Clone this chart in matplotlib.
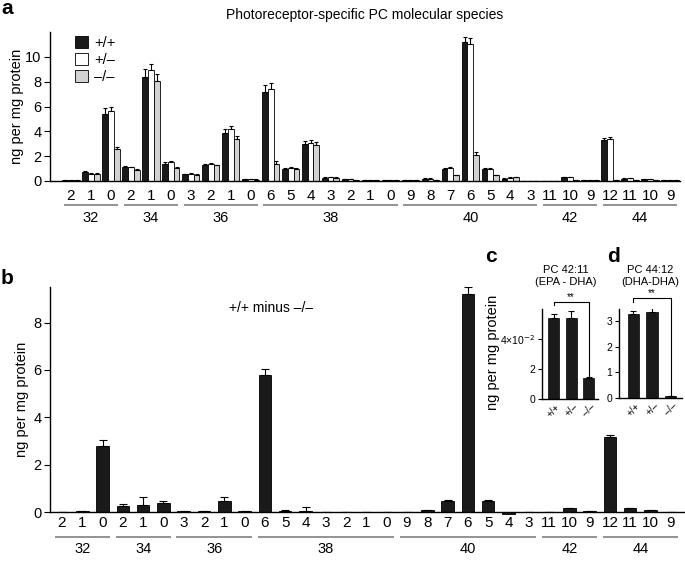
import matplotlib
matplotlib.use("Agg")
import matplotlib.pyplot as plt
import matplotlib.transforms as mtransforms
import numpy as np

plt.rcParams['font.family'] = ['Liberation Sans', 'DejaVu Sans']

# species: (carbon group, double bonds)
groups = ['32', '34', '36', '38', '40', '42', '44']
group_sizes = [3, 3, 4, 7, 7, 3, 4]
tick_labels = ['2', '1', '0', '2', '1', '0', '3', '2', '1', '0',
               '6', '5', '4', '3', '2', '1', '0',
               '9', '8', '7', '6', '5', '4', '3',
               '11', '10', '9', '12', '11', '10', '9']

# panel a: ng per mg protein (+/+, +/-, -/-)
wt = [0.05, 0.7, 5.4, 1.15, 8.4, 1.4, 0.55, 1.25, 3.9, 0.15,
      7.2, 1.0, 3.0, 0.25, 0.15, 0.05, 0.05,
      0.05, 0.2, 0.95, 11.2, 0.95, 0.2, 0.03,
      0.03, 0.3, 0.1, 3.3, 0.2, 0.15, 0.05]
het = [0.05, 0.55, 5.6, 1.1, 8.9, 1.5, 0.6, 1.35, 4.2, 0.15,
       7.4, 1.05, 3.05, 0.3, 0.15, 0.05, 0.05,
       0.05, 0.2, 1.05, 11.0, 0.95, 0.25, 0.03,
       0.03, 0.3, 0.1, 3.35, 0.25, 0.15, 0.05]
ko = [0.05, 0.6, 2.6, 0.9, 8.05, 1.05, 0.5, 1.25, 3.4, 0.12,
      1.4, 1.0, 2.9, 0.25, 0.1, 0.05, 0.05,
      0.05, 0.1, 0.45, 2.1, 0.45, 0.3, 0.03,
      0.03, 0.05, 0.1, 0.05, 0.05, 0.05, 0.05]
wt_err = [0.02, 0.08, 0.5, 0.08, 0.6, 0.12, 0.05, 0.08, 0.3, 0.02,
          0.5, 0.06, 0.2, 0.05, 0.02, 0.01, 0.01,
          0.01, 0.03, 0.08, 0.4, 0.08, 0.03, 0.01,
          0.01, 0.04, 0.02, 0.15, 0.03, 0.02, 0.01]
het_err = [0.02, 0.06, 0.4, 0.06, 0.55, 0.1, 0.05, 0.08, 0.25, 0.02,
           0.5, 0.06, 0.22, 0.05, 0.02, 0.01, 0.01,
           0.01, 0.03, 0.1, 0.5, 0.08, 0.04, 0.01,
           0.01, 0.04, 0.02, 0.2, 0.03, 0.02, 0.01]
ko_err = [0.02, 0.06, 0.15, 0.06, 0.55, 0.08, 0.05, 0.06, 0.22, 0.02,
          0.2, 0.05, 0.25, 0.04, 0.02, 0.01, 0.01,
          0.01, 0.02, 0.06, 0.25, 0.05, 0.04, 0.01,
          0.01, 0.01, 0.02, 0.01, 0.01, 0.01, 0.01]

# panel b: +/+ minus -/-
diff = [0.01, 0.05, 2.8, 0.25, 0.3, 0.38, 0.05, 0.03, 0.45, 0.03,
        5.8, 0.05, 0.05, 0.02, 0.01, 0.01, 0.01,
        0.01, 0.1, 0.45, 9.2, 0.45, -0.1, 0.01,
        0.01, 0.18, 0.03, 3.15, 0.18, 0.08, 0.01]
diff_err = [0, 0, 0.25, 0.07, 0.35, 0.07, 0.01, 0, 0.2, 0,
            0.22, 0.03, 0.17, 0, 0, 0, 0,
            0, 0, 0.05, 0.3, 0.05, 0, 0,
            0, 0, 0, 0.1, 0, 0, 0]

# panels c, d
genotypes = ['+/+', '+/\u2013', '\u2013/\u2013']
pc4211 = [0.054, 0.054, 0.014]
pc4211_err = [0.003, 0.005, 0.001]
pc4412 = [3.25, 3.35, 0.07]
pc4412_err = [0.15, 0.2, 0.01]

BLACK = '#1a1a1a'
GREY = '#d2d2d2'
LINE_GREY = '#8a8a8a'

fig = plt.figure(figsize=(6.85, 5.61), dpi=100)


def style_axes(ax):
    for s in ['top', 'right']:
        ax.spines[s].set_visible(False)
    for s in ['left', 'bottom']:
        ax.spines[s].set_linewidth(1.0)
    ax.tick_params(axis='y', direction='out', length=4, width=0.8, labelsize=10.5, pad=2)
    ax.tick_params(axis='x', length=0, labelsize=11)


def group_axis(ax, line_y, label_y):
    trans = mtransforms.blended_transform_factory(ax.transData, ax.transAxes)
    start = 0
    for name, n in zip(groups, group_sizes):
        x0, x1 = start - 0.36, start + n - 1 + 0.36
        ax.plot([x0, x1], [line_y, line_y], color=LINE_GREY, lw=1.3,
                transform=trans, clip_on=False, solid_capstyle='butt')
        ax.text((x0 + x1) / 2, label_y, name, transform=trans, ha='center',
                va='center', fontsize=10.5)
        start += n


x = np.arange(len(tick_labels))

# ---- panel a
ax_a = fig.add_axes([50 / 685, 1 - 181 / 561, 630 / 685, 149 / 561])
style_axes(ax_a)
w = 0.29
ekw = dict(elinewidth=0.8, capthick=0.8)
ax_a.bar(x - w, wt, w, color=BLACK, edgecolor='black', lw=0.6, label='+/+',
         yerr=[np.zeros(len(x)), wt_err], capsize=1.5, error_kw=ekw)
ax_a.bar(x, het, w, color='white', edgecolor='black', lw=0.6, label='+/\u2013',
         yerr=[np.zeros(len(x)), het_err], capsize=1.5, error_kw=ekw)
ax_a.bar(x + w, ko, w, color=GREY, edgecolor='black', lw=0.6, label='\u2013/\u2013',
         yerr=[np.zeros(len(x)), ko_err], capsize=1.5, error_kw=ekw)
ax_a.set_xlim(-1.05, 30.5)
ax_a.set_ylim(0, 12)
ax_a.set_yticks([0, 2, 4, 6, 8, 10])
ax_a.set_xticks(x)
ax_a.set_xticklabels(tick_labels)
ax_a.tick_params(axis='x', pad=6)
ax_a.set_ylabel('ng per mg protein', fontsize=10.5, labelpad=1)
group_axis(ax_a, -0.161, -0.248)
ax_a.legend(loc='upper left', bbox_to_anchor=(0.04, 0.975), frameon=False,
            fontsize=10.5, handlelength=0.9, handleheight=0.9, handletextpad=0.4,
            labelspacing=0.2, borderpad=0, borderaxespad=0)
fig.text(365 / 685, 1 - 15 / 561, 'Photoreceptor-specific PC molecular species',
         ha='center', va='center', fontsize=10)

# ---- panel b
ax_b = fig.add_axes([50 / 685, 1 - 512 / 561, 635 / 685, 225 / 561])
style_axes(ax_b)
ax_b.bar(x, diff, 0.62, color=BLACK, edgecolor='black', lw=0.6, clip_on=False,
         yerr=[np.zeros(len(x)), diff_err], capsize=3, error_kw=ekw)
ax_b.set_xlim(-0.59, 30.7)
ax_b.set_ylim(0, 9.5)
ax_b.set_yticks([0, 2, 4, 6, 8])
ax_b.set_xticks(x)
ax_b.set_xticklabels(tick_labels)
ax_b.tick_params(axis='x', pad=3)
ax_b.set_ylabel('ng per mg protein', fontsize=10.5, labelpad=3)
group_axis(ax_b, -0.111, -0.166)
fig.text(271 / 685, 1 - 308 / 561, '+/+ minus \u2013/\u2013', ha='center',
         va='center', fontsize=10)


# ---- insets c, d
def inset(rect, vals, errs, xlim, ylim, yticks, ylabels, title, title_x,
          sig_y, sig_drop, width):
    ax = fig.add_axes(rect)
    style_axes(ax)
    gx = np.arange(len(genotypes))
    ax.bar(gx, vals, width, color=BLACK, edgecolor='black', lw=0.5,
           yerr=[np.zeros(3), errs], capsize=2.5, error_kw=ekw)
    ax.set_xlim(*xlim)
    ax.set_ylim(*ylim)
    ax.set_yticks(yticks)
    ax.set_yticklabels(ylabels)
    ax.tick_params(axis='y', labelsize=7.5, length=3)
    ax.set_xticks(gx)
    ax.set_xticklabels(genotypes, rotation=45, fontsize=7, ha='center')
    ax.tick_params(axis='x', pad=2)
    fig.text(title_x / 685, 1 - 276 / 561, title, ha='center', va='center',
             fontsize=8, linespacing=1.15)
    top = vals[2] + errs[2]
    ax.plot([0, 0, 2, 2], [sig_y - sig_drop, sig_y, sig_y, top], color='black',
            lw=0.8, clip_on=False)
    ax.text(1, sig_y, '**', ha='center', va='bottom', fontsize=7)
    return ax


ax_c = inset([542 / 685, 1 - 399 / 561, 56 / 685, 90 / 561], pc4211, pc4211_err,
             (-0.66, 2.54), (0, 0.06), [0, 0.02, 0.04], ['0', '2', '4\u00d710$^{-2}$'],
             'PC 42:11\n(EPA - DHA)', 566, 0.0645, 0.002, 0.63)
ax_d = inset([619 / 685, 1 - 398 / 561, 63 / 685, 89 / 561], pc4412, pc4412_err,
             (-0.78, 2.62), (0, 3.46), [0, 1, 2, 3], ['0', '1', '2', '3'],
             'PC 44:12\n(DHA-DHA)', 650, 3.88, 0.15, 0.6)
fig.text(493 / 685, 1 - 352 / 561, 'ng per mg protein', rotation=90,
         ha='center', va='center', fontsize=10.5)

# panel letters
for lbl, px, py in [('a', 7, 8), ('b', 7, 278), ('c', 491, 257), ('d', 613, 256)]:
    fig.text(px / 685, 1 - py / 561, lbl, fontsize=15, fontweight='bold',
             ha='center', va='center')

fig.savefig('out.png', dpi=100)
